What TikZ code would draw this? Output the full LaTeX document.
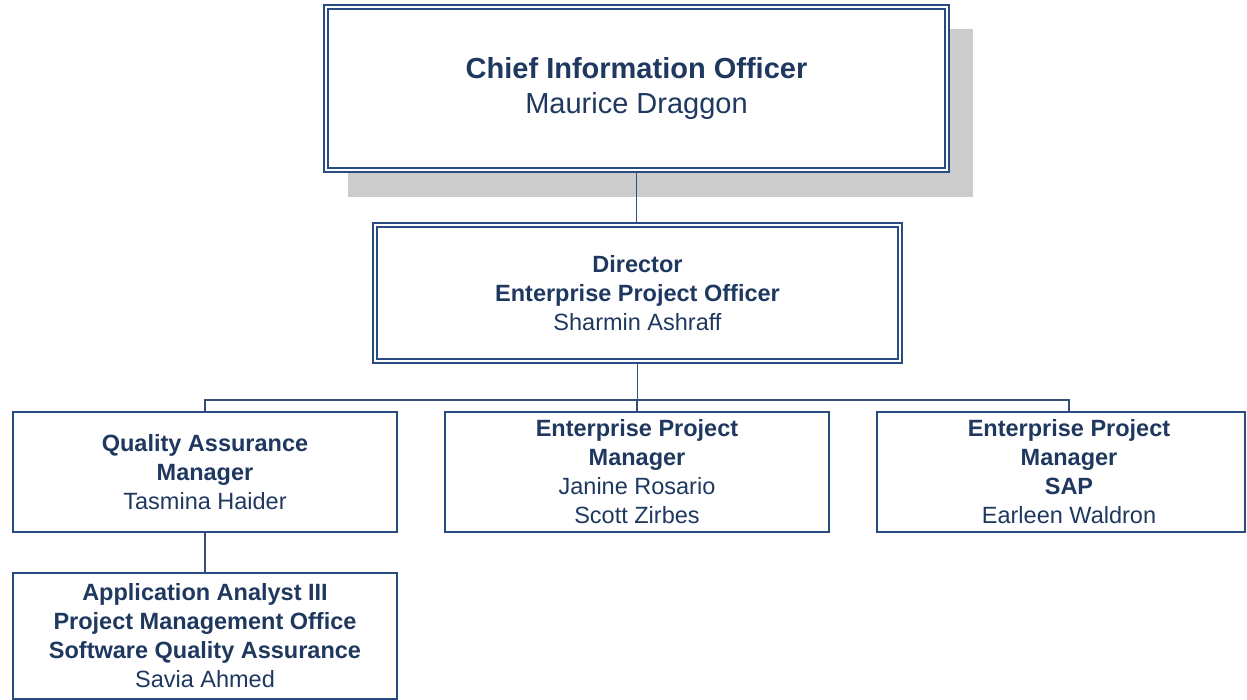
\documentclass[tikz,border=0pt]{standalone}
\usepackage{fontspec}
\setmainfont{Liberation Sans}
\definecolor{bordc}{RGB}{40,75,130}
\definecolor{linec}{RGB}{52,80,118}
\definecolor{txtc}{RGB}{31,56,96}
\definecolor{shadc}{RGB}{204,204,204}
\begin{document}
\begin{tikzpicture}[x=1pt,y=1pt,
  box/.style={draw=bordc, line width=2pt, fill=white, inner sep=0pt, align=center, text=txtc},
  bigfont/.style={font=\fontsize{29}{35}\selectfont},
  midfont/.style={font=\fontsize{23.5}{29}\selectfont},
  txtonly/.style={inner sep=0pt, align=center, text=txtc, font=\fontsize{23.5}{29}\selectfont},
  innerframe/.style={draw=bordc, line width=1.5pt},
  conn/.style={draw=linec, line width=1.5pt}]
\useasboundingbox (0,0) rectangle (1247,700);
% shadow
\fill[shadc] (348,671) rectangle (973,503);
% top
\node[box, bigfont, minimum width=625pt, minimum height=167pt] (cio) at (636.5,611.5)
  {\textbf{Chief Information Officer}\\Maurice Draggon};
\draw[innerframe] ([shift={(5,-5)}]cio.north west) rectangle ([shift={(-5,5)}]cio.south east);
% director
\node[box, midfont, minimum width=529pt, minimum height=140pt] (dir) at (637.5,407)
  {\textbf{Director}\\\textbf{Enterprise Project Officer}\\Sharmin Ashraff};
\draw[innerframe] ([shift={(5,-5)}]dir.north west) rectangle ([shift={(-5,5)}]dir.south east);
% level 3
\node[box, midfont, minimum width=384pt, minimum height=120pt] (qa) at (205,228)
  {\textbf{Quality Assurance}\\\textbf{Manager}\\Tasmina Haider};
\node[box, midfont, minimum width=384pt, minimum height=120pt] (epm) at (637,228)
  {\textbf{Enterprise Project}\\\textbf{Manager}\\Janine Rosario\\Scott Zirbes};
\node[box, minimum width=368pt, minimum height=120pt] (sapbox) at (1061,228) {};
\node[txtonly] (sap) at (1069,228)
  {\textbf{Enterprise Project}\\\textbf{Manager}\\\textbf{SAP}\\Earleen Waldron};
% level 4
\node[box, midfont, minimum width=384pt, minimum height=126pt] (aa) at (205,64)
  {\textbf{Application Analyst III}\\\textbf{Project Management Office}\\\textbf{Software Quality Assurance}\\Savia Ahmed};
% connectors
\coordinate (bus) at (637,300);
\draw[conn] (cio.south) -- (cio.south |- dir.north);
\draw[conn] (dir.south) -- (dir.south |- bus);
\draw[conn] (qa.north) -- (qa.north |- bus) -- (sap.north |- bus) -- (sap.north |- sapbox.north);
\draw[conn] (epm.north) -- (epm.north |- bus);
\draw[conn] (qa.south) -- (aa.north);
\end{tikzpicture}
\end{document}
